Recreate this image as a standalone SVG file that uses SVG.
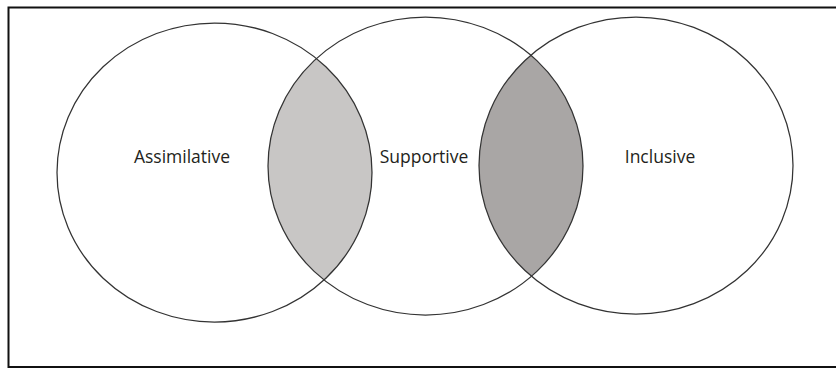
<svg xmlns="http://www.w3.org/2000/svg" width="836" height="370" viewBox="0 0 836 370">
<style>
.c{fill:none;stroke:#333;stroke-width:1.25}
.t{font-family:"Open Sans","Noto Sans",sans-serif;font-size:17.5px;fill:#231f20}
</style>
<defs>
<clipPath id="clipL"><ellipse cx="214.5" cy="172.5" rx="157.5" ry="149.5"/></clipPath>
<clipPath id="clipR"><ellipse cx="636" cy="165.5" rx="157" ry="148.5"/></clipPath>
</defs>
<rect width="836" height="370" fill="#fff"/>
<path d="M836,7.5 H8.5 V367 H836" fill="none" stroke="#111" stroke-width="2"/>
<g id="overlap-left"><ellipse cx="425.5" cy="166" rx="157.5" ry="149" fill="#c8c6c5" clip-path="url(#clipL)"/></g>
<g id="overlap-right"><ellipse cx="425.5" cy="166" rx="157.5" ry="149" fill="#a9a6a5" clip-path="url(#clipR)"/></g>
<g id="assimilative"><ellipse class="c" cx="214.5" cy="172.5" rx="157.5" ry="149.5"/><text class="t" x="182" y="163" text-anchor="middle">Assimilative</text></g>
<g id="supportive"><ellipse class="c" cx="425.5" cy="166" rx="157.5" ry="149"/><text class="t" x="424" y="163" text-anchor="middle">Supportive</text></g>
<g id="inclusive"><ellipse class="c" cx="636" cy="165.5" rx="157" ry="148.5"/><text class="t" x="660" y="163" text-anchor="middle">Inclusive</text></g>
<g id="connectors"/>
</svg>
